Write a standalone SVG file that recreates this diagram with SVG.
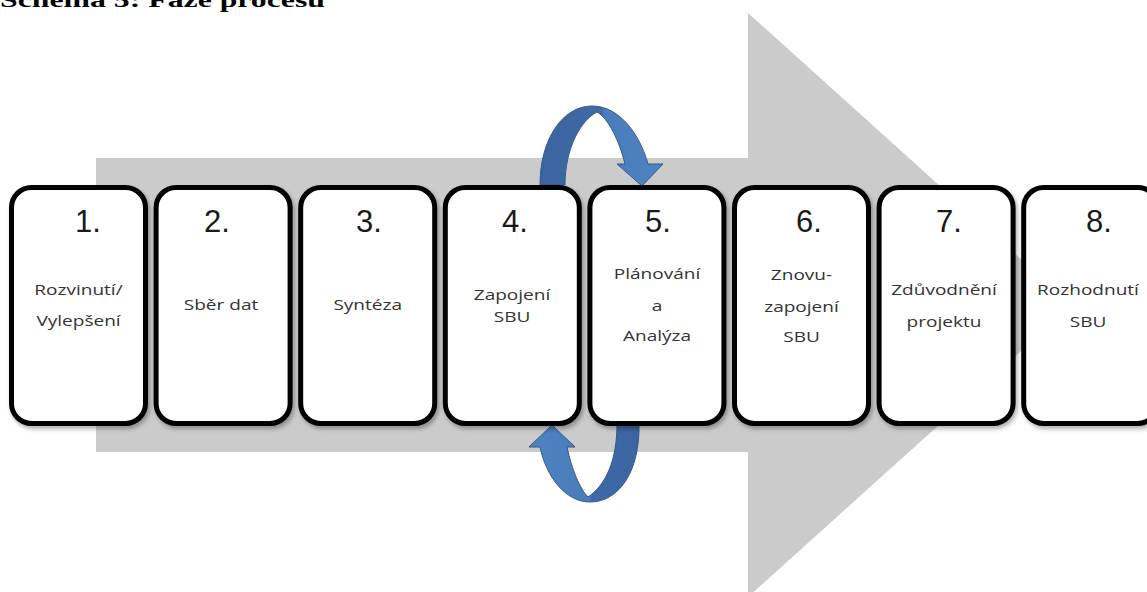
<svg xmlns="http://www.w3.org/2000/svg" width="1147" height="592" viewBox="0 0 1147 592">
<defs>
<style>
.box{fill:#fff;stroke:#000;stroke-width:5;filter:url(#sh)}
.num{font-family:"Liberation Sans",Arial,sans-serif;font-size:31px;fill:#1a1a1a}
.lbl{font-family:"Open Sans","DejaVu Sans",sans-serif;font-size:15px;fill:#333;text-anchor:middle}
.title{font-family:"Liberation Serif","Times New Roman",serif;font-weight:bold;font-size:22px;fill:#000}
.blue{stroke:#35598a;stroke-width:1}
</style>
<filter id="sh" x="-10%" y="-10%" width="125%" height="125%">
<feDropShadow dx="2" dy="3" stdDeviation="2" flood-color="#000" flood-opacity="0.3"/>
</filter>
<linearGradient id="gTop" x1="0" y1="0" x2="1" y2="0">
<stop offset="0" stop-color="#3b64a0"/><stop offset="0.5" stop-color="#3f6aa6"/><stop offset="0.52" stop-color="#4a7dbd"/><stop offset="1" stop-color="#4f82c0"/>
</linearGradient>
<linearGradient id="gBot" x1="0" y1="0" x2="1" y2="0">
<stop offset="0" stop-color="#4f82c0"/><stop offset="0.55" stop-color="#4a7dbd"/><stop offset="0.57" stop-color="#3f6aa6"/><stop offset="1" stop-color="#3b64a0"/>
</linearGradient>
</defs>
<rect width="1147" height="592" fill="#fff"/>
<text class="title" x="0" y="7" textLength="325" lengthAdjust="spacingAndGlyphs">Schéma 5: Fáze procesu</text>
<polygon id="bigArrow" points="96,158 748,158 748,13 1072,305 748,597 748,452 96,452" fill="#cbcbcb"/>
<g id="connectors">
<path class="blue" fill="url(#gTop)" d="M540,185 C540,140 562,106 592,106 C620,106 640,135 648,164 L663,164 L642,186 L617,164 L625,164 C619,140 608,118 597,112 C581,120 565,148 565,185 Z"/>
<path class="blue" fill="url(#gBot)" d="M617,424 L639,424 C640,470 620,502 590,502 C565,502 546,476 540,447 L529,447 L552,425 L575,447 L567,447 C572,470 580,489 588,497 C606,485 617,460 617,424 Z"/>
</g>
<g id="n1"><rect class="box" x="11.5" y="187.5" width="134" height="236" rx="20"/><text class="num" x="75" y="232">1.</text>
<g transform="translate(78.5,0) scale(1.27,1)"><text class="lbl" x="0" y="295">Rozvinutí/</text><text class="lbl" x="0" y="326">Vylepšení</text></g></g>
<g id="n2"><rect class="box" x="156.1" y="187.5" width="134" height="236" rx="20"/><text class="num" x="204" y="232">2.</text>
<g transform="translate(221,0) scale(1.27,1)"><text class="lbl" x="0" y="310">Sběr dat</text></g></g>
<g id="n3"><rect class="box" x="300.7" y="187.5" width="134" height="236" rx="20"/><text class="num" x="356" y="232">3.</text>
<g transform="translate(367.7,0) scale(1.27,1)"><text class="lbl" x="0" y="310">Syntéza</text></g></g>
<g id="n4"><rect class="box" x="445.3" y="187.5" width="134" height="236" rx="20"/><text class="num" x="502" y="232">4.</text>
<g transform="translate(512,0) scale(1.27,1)"><text class="lbl" x="0" y="300">Zapojení</text><text class="lbl" x="0" y="322">SBU</text></g></g>
<g id="n5"><rect class="box" x="589.9" y="187.5" width="134" height="236" rx="20"/><text class="num" x="645" y="232">5.</text>
<g transform="translate(657,0) scale(1.27,1)"><text class="lbl" x="0" y="279">Plánování</text><text class="lbl" x="0" y="311">a</text><text class="lbl" x="0" y="341">Analýza</text></g></g>
<g id="n6"><rect class="box" x="734.5" y="187.5" width="134" height="236" rx="20"/><text class="num" x="796" y="232">6.</text>
<g transform="translate(801.5,0) scale(1.27,1)"><text class="lbl" x="0" y="280">Znovu-</text><text class="lbl" x="0" y="312">zapojení</text><text class="lbl" x="0" y="342">SBU</text></g></g>
<g id="n7"><rect class="box" x="879.1" y="187.5" width="134" height="236" rx="20"/><text class="num" x="936" y="232">7.</text>
<g transform="translate(944,0) scale(1.27,1)"><text class="lbl" x="0" y="295">Zdůvodnění</text><text class="lbl" x="0" y="327">projektu</text></g></g>
<g id="n8"><rect class="box" x="1023.7" y="187.5" width="134" height="236" rx="20"/><text class="num" x="1086" y="232">8.</text>
<g transform="translate(1088,0) scale(1.27,1)"><text class="lbl" x="0" y="295">Rozhodnutí</text><text class="lbl" x="0" y="327">SBU</text></g></g>
</svg>
